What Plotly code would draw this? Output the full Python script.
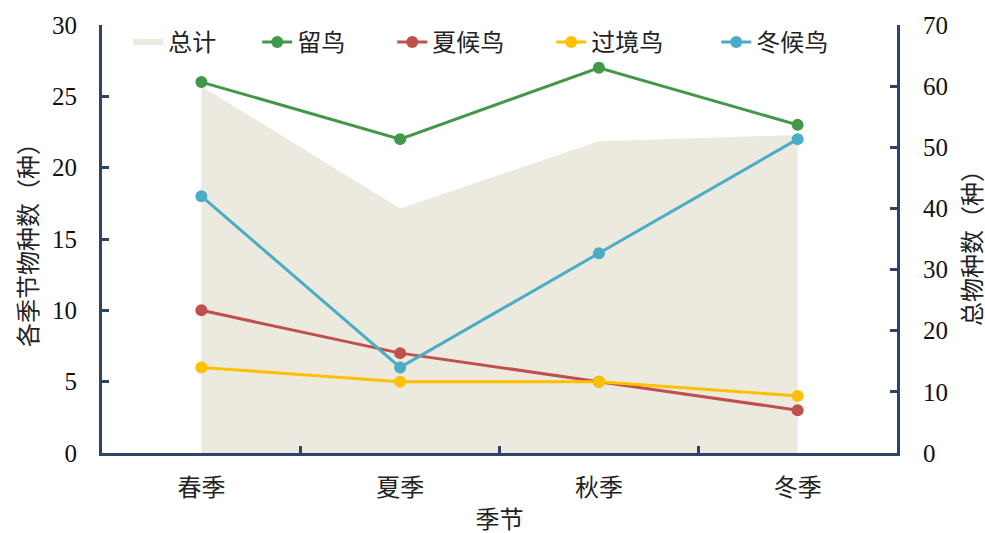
import plotly.graph_objects as go

seasons = ["春季", "夏季", "秋季", "冬季"]
total = [60, 40, 51, 52]
resident = [26, 22, 27, 23]
summer_visitor = [10, 7, 5, 3]
passage = [6, 5, 5, 4]
winter_visitor = [18, 6, 14, 22]
series_names = ["总计", "留鸟", "夏候鸟", "过境鸟", "冬候鸟"]

axis_color = "#2B4468"
cjk = "Liberation Serif, Noto Sans CJK SC"
num_font = dict(size=25, family="Liberation Serif", color="#111111")
cjk_font = dict(size=24, family=cjk, color="#222222")
NB = "\u00a0"
pads = [6, 7, 7, 8, 0]

fig = go.Figure()
fig.add_trace(go.Scatter(x=seasons, y=total, name=series_names[0] + NB * pads[0],
                         mode="none", fill="tozeroy", fillcolor="#ECE9DF", yaxis="y"))
series = [
    (resident, "#43974A"),
    (summer_visitor, "#C0504D"),
    (passage, "#FFC000"),
    (winter_visitor, "#4BACC6"),
]
for i, (vals, col) in enumerate(series, start=1):
    fig.add_trace(go.Scatter(x=seasons, y=vals, name=series_names[i] + NB * pads[i],
                             mode="lines+markers",
                             line=dict(color=col, width=3),
                             marker=dict(color=col, size=12), yaxis="y2"))

common = dict(showgrid=False, zeroline=False, showline=True, linecolor=axis_color,
              linewidth=3, ticks="inside", ticklen=7, tickwidth=2.5,
              tickcolor=axis_color, automargin=False)

fig.update_layout(
    width=985, height=533,
    margin=dict(l=102, r=88, t=25, b=80),
    plot_bgcolor="white", paper_bgcolor="white",
    font=dict(family=cjk, size=24, color="#222222"),
    showlegend=True,
    legend=dict(orientation="h", x=0.033, y=1.012, xanchor="left", yanchor="top",
                font=cjk_font, bgcolor="rgba(0,0,0,0)", tracegroupgap=0),
    xaxis=dict(type="category", range=[-0.5, 3.5], tickson="boundaries",
               tickfont=cjk_font, ticklabelstandoff=11,
               title=dict(text="季节", font=cjk_font, standoff=14), **common),
    yaxis=dict(side="right", range=[0, 70], dtick=10, tickfont=num_font,
               ticklabelstandoff=18, **common),
    yaxis2=dict(side="left", overlaying="y", range=[0, 30], dtick=5, tickfont=num_font,
                ticklabelstandoff=17,
                title=dict(text="各季节物种数（种）", font=cjk_font, standoff=8), **common),
    annotations=[dict(text="总物种数（种）", xref="paper", yref="paper",
                      x=1.0956, y=0.493, xanchor="center", yanchor="middle",
                      textangle=-90, showarrow=False, font=cjk_font)],
)

fig.write_html("out.html",
               config={"displayModeBar": False},
               post_script="document.body.style.margin='0';"
                           "document.body.style.overflow='hidden';")
